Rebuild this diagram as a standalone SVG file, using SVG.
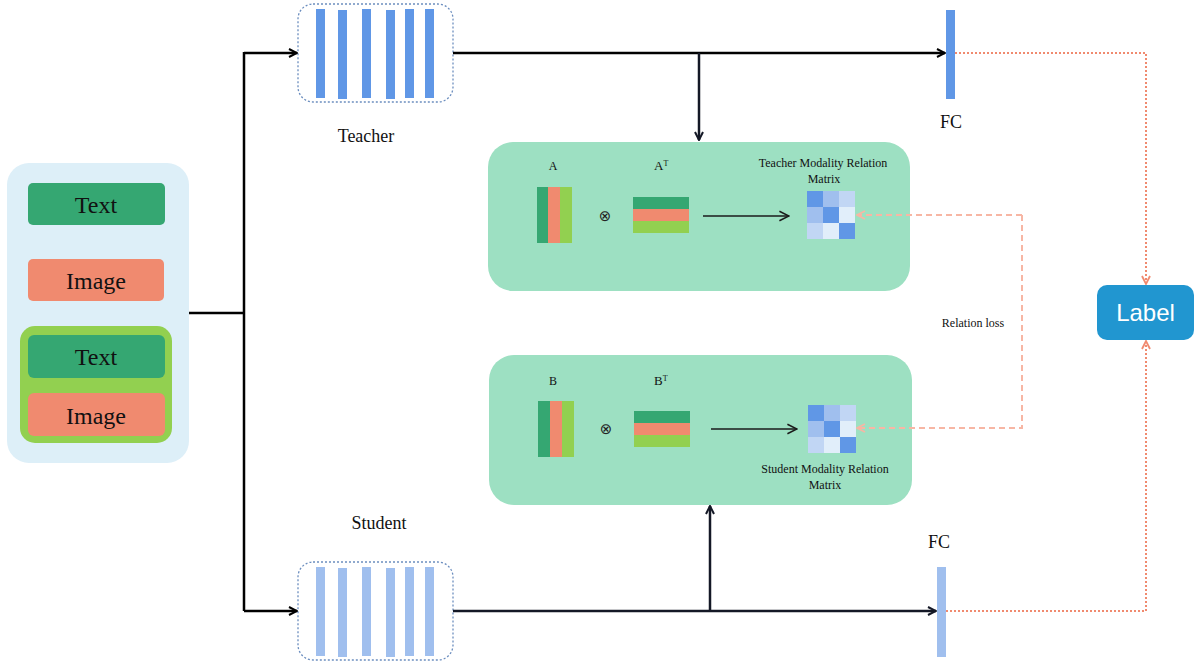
<svg xmlns="http://www.w3.org/2000/svg" width="1195" height="662" viewBox="0 0 1195 662">
<defs>
<style>
.serif{font-family:"Liberation Serif","Times New Roman",serif;fill:#111;}
.big{font-size:24px;text-anchor:middle;}
.mid{font-size:18px;text-anchor:middle;}
.sm{font-size:12px;text-anchor:middle;}
.otimes{font-family:"DejaVu Sans",sans-serif;font-size:15px;text-anchor:middle;fill:#222;}
.wire{fill:none;stroke:#000;stroke-width:2.5;}
.wire2{fill:none;stroke:#141826;stroke-width:2.5;}
.thin{fill:none;stroke:#1b1b1b;stroke-width:1.3;}
.dot{fill:none;stroke:#F08A6F;stroke-width:2;stroke-dasharray:2 2;}
.dash{fill:none;stroke:#F7B6A4;stroke-width:2;stroke-dasharray:6 4;}
.enc{fill:#fff;stroke:#6C8EBF;stroke-width:1.3;stroke-dasharray:2 2;}
.tb{fill:#6097E6;}
.sb{fill:#A0BFEE;}
.g{fill:#35A772;}
.o{fill:#F08A6F;}
.lg{fill:#92D050;}
.rel{fill:#9DE0C2;}
</style>
<marker id="ah" viewBox="0 0 10 10" refX="9" refY="5" markerWidth="10" markerHeight="10" markerUnits="userSpaceOnUse" orient="auto">
<path d="M1,1 L9,5 L1,9" fill="none" stroke="#000" stroke-width="2"/>
</marker>
<marker id="ahd" viewBox="0 0 10 10" refX="9" refY="5" markerWidth="10" markerHeight="10" markerUnits="userSpaceOnUse" orient="auto">
<path d="M1,1 L9,5 L1,9" fill="none" stroke="#141826" stroke-width="2"/>
</marker>
<marker id="aht" viewBox="0 0 10 10" refX="9" refY="5" markerWidth="12" markerHeight="12" markerUnits="userSpaceOnUse" orient="auto">
<path d="M1,1 L9,5 L1,9" fill="none" stroke="#1b1b1b" stroke-width="1.3"/>
</marker>
<marker id="aho" viewBox="0 0 10 10" refX="9" refY="5" markerWidth="10" markerHeight="10" markerUnits="userSpaceOnUse" orient="auto">
<path d="M1,1 L9,5 L1,9" fill="none" stroke="#F08A6F" stroke-width="1.8"/>
</marker>
<marker id="ahl" viewBox="0 0 10 10" refX="9" refY="5" markerWidth="10" markerHeight="10" markerUnits="userSpaceOnUse" orient="auto">
<path d="M1,1 L9,5 L1,9" fill="none" stroke="#F7B6A4" stroke-width="1.8"/>
</marker>
</defs>
<rect width="1195" height="662" fill="#fff"/>

<g id="input">
<rect x="7" y="163" width="182" height="300" rx="22" fill="#DDEFF8"/>
<rect class="g" x="28" y="183" width="137" height="42" rx="5"/>
<text class="serif big" x="96" y="213">Text</text>
<rect class="o" x="28" y="259" width="136" height="42" rx="5"/>
<text class="serif big" x="96" y="289">Image</text>
<rect class="lg" x="20" y="326" width="152" height="117" rx="15"/>
<rect class="g" x="28" y="335" width="137" height="43" rx="6"/>
<text class="serif big" x="96" y="365">Text</text>
<rect class="o" x="28" y="393" width="137" height="43" rx="6"/>
<text class="serif big" x="96" y="424">Image</text>
</g>

<g id="teacher">
<rect class="enc" x="298" y="4" width="155" height="98" rx="15"/>
<rect class="tb" x="316" y="9" width="9" height="89"/>
<rect class="tb" x="338" y="10" width="9" height="89"/>
<rect class="tb" x="362" y="9" width="9" height="89"/>
<rect class="tb" x="386" y="10" width="9" height="89"/>
<rect class="tb" x="405" y="9" width="9" height="89"/>
<rect class="tb" x="425" y="9" width="9" height="89"/>
<text class="serif mid" x="366" y="142">Teacher</text>
</g>

<g id="student">
<rect class="enc" x="298" y="562" width="155" height="98" rx="15"/>
<rect class="sb" x="316" y="567" width="9" height="89"/>
<rect class="sb" x="338" y="568" width="9" height="89"/>
<rect class="sb" x="362" y="567" width="9" height="89"/>
<rect class="sb" x="386" y="568" width="9" height="89"/>
<rect class="sb" x="405" y="567" width="9" height="89"/>
<rect class="sb" x="425" y="567" width="9" height="89"/>
<text class="serif mid" x="379" y="529">Student</text>
</g>

<g id="fc-teacher">
<rect class="tb" x="946" y="10" width="9" height="89"/>
<text class="serif mid" x="951" y="128">FC</text>
</g>

<g id="fc-student">
<rect class="sb" x="937" y="567" width="9" height="90"/>
<text class="serif mid" x="939" y="548">FC</text>
</g>

<g id="label">
<rect x="1097" y="285" width="97" height="55" rx="10" fill="#2196D0"/>
<text x="1145.5" y="321" font-family="Liberation Sans, Arial, sans-serif" font-size="24" fill="#fff" text-anchor="middle">Label</text>
</g>

<g id="teacher-relation">
<rect class="rel" x="488" y="142" width="422" height="149" rx="25"/>
<text class="serif sm" x="553" y="170" font-size="13">A</text>
<rect class="g" x="537" y="187" width="12" height="56"/>
<rect class="o" x="548" y="187" width="12" height="56"/>
<rect class="lg" x="560" y="187" width="12" height="56"/>
<text class="otimes" x="605" y="221">⊗</text>
<text class="serif" x="654" y="170" font-size="13">A<tspan font-size="8" dy="-4">T</tspan></text>
<rect class="g" x="633" y="197" width="56" height="12"/>
<rect class="o" x="633" y="209" width="56" height="12"/>
<rect class="lg" x="633" y="221" width="56" height="12"/>
<path class="thin" d="M703,216 H789" marker-end="url(#aht)"/>
<text class="serif sm" x="823" y="167">Teacher Modality Relation</text>
<text class="serif sm" x="824" y="183">Matrix</text>
<rect x="807" y="191" width="16" height="16" fill="#6097E6"/>
<rect x="823" y="191" width="16" height="16" fill="#A0BFEE"/>
<rect x="839" y="191" width="16" height="16" fill="#C1D6F4"/>
<rect x="807" y="207" width="16" height="16" fill="#A0BFEE"/>
<rect x="823" y="207" width="16" height="16" fill="#6097E6"/>
<rect x="839" y="207" width="16" height="16" fill="#E1EEFA"/>
<rect x="807" y="223" width="16" height="16" fill="#C1D6F4"/>
<rect x="823" y="223" width="16" height="16" fill="#E1EEFA"/>
<rect x="839" y="223" width="16" height="16" fill="#6097E6"/>
</g>

<g id="student-relation">
<rect class="rel" x="489" y="355" width="423" height="150" rx="25"/>
<text class="serif sm" x="553" y="385" font-size="13">B</text>
<rect class="g" x="538" y="401" width="12" height="56"/>
<rect class="o" x="550" y="401" width="12" height="56"/>
<rect class="lg" x="562" y="401" width="12" height="56"/>
<text class="otimes" x="606" y="434">⊗</text>
<text class="serif" x="654" y="385" font-size="13">B<tspan font-size="8" dy="-4">T</tspan></text>
<rect class="g" x="634" y="411" width="56" height="12"/>
<rect class="o" x="634" y="423" width="56" height="12"/>
<rect class="lg" x="634" y="435" width="56" height="12"/>
<path class="thin" d="M711,429 H797" marker-end="url(#aht)"/>
<rect x="808" y="405" width="16" height="16" fill="#6097E6"/>
<rect x="824" y="405" width="16" height="16" fill="#A0BFEE"/>
<rect x="840" y="405" width="16" height="16" fill="#C1D6F4"/>
<rect x="808" y="421" width="16" height="16" fill="#A0BFEE"/>
<rect x="824" y="421" width="16" height="16" fill="#6097E6"/>
<rect x="840" y="421" width="16" height="16" fill="#E1EEFA"/>
<rect x="808" y="437" width="16" height="16" fill="#C1D6F4"/>
<rect x="824" y="437" width="16" height="16" fill="#E1EEFA"/>
<rect x="840" y="437" width="16" height="16" fill="#6097E6"/>
<text class="serif sm" x="825" y="473">Student Modality Relation</text>
<text class="serif sm" x="825" y="489">Matrix</text>
</g>

<g id="connectors">
<path class="wire" d="M189,313 H244"/>
<path class="wire" d="M244,52 V611"/>
<path class="wire" d="M244,53 H297" marker-end="url(#ah)"/>
<path class="wire" d="M244,611 H297" marker-end="url(#ah)"/>
<path class="wire" d="M453,53 H945" marker-end="url(#ah)"/>
<path class="wire2" d="M699,53 V140" marker-end="url(#ahd)"/>
<path class="wire2" d="M453,611 H936" marker-end="url(#ahd)"/>
<path class="wire2" d="M710,611 V506" marker-end="url(#ahd)"/>
<path class="dot" d="M955,53 H1146 V284" marker-end="url(#aho)"/>
<path class="dot" d="M946,611 H1146 V341" marker-end="url(#aho)"/>
<path class="dash" d="M1022,215 H857" marker-end="url(#ahl)"/>
<path class="dash" d="M1022,215 V428 H857" marker-end="url(#ahl)"/>
<text class="serif sm" x="973" y="327">Relation loss</text>
</g>
</svg>
